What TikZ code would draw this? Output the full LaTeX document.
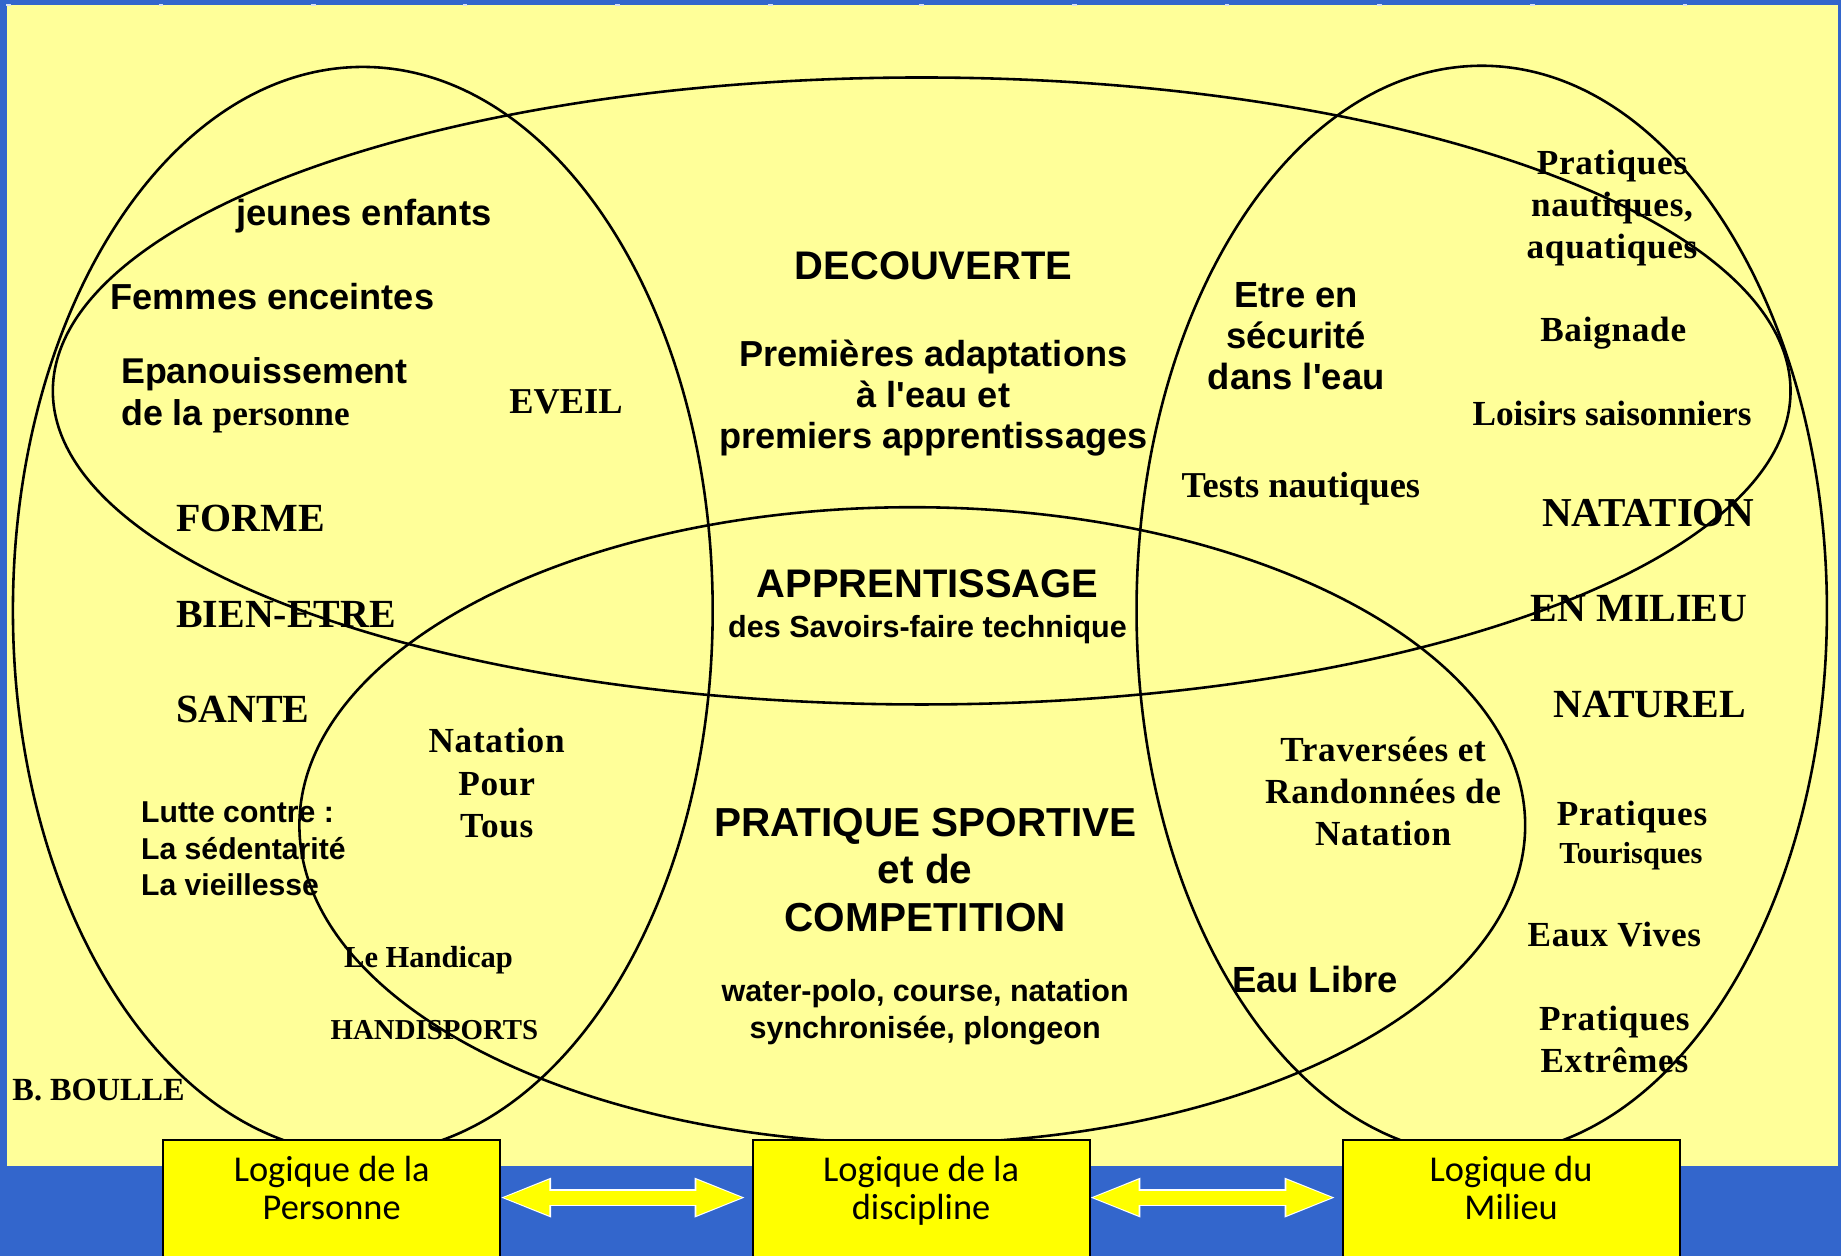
\documentclass[tikz,border=0pt]{standalone}
\usepackage{fontspec}
\setmainfont{Liberation Sans}
\newfontfamily\ans{Liberation Sans}
\newfontfamily\ser{Liberation Serif}
\newfontfamily\serw[LetterSpace=2]{Liberation Serif}
\newfontfamily\comic{Carlito}
\usetikzlibrary{arrows.meta,calc}
\definecolor{bgblue}{HTML}{3366CC}
\definecolor{pale}{HTML}{FFFF99}
\definecolor{boxy}{HTML}{FFFF00}
\newcommand{\fs}[2]{\fontsize{#1}{#2}\selectfont\bfseries}
\tikzset{
  ring/.style={draw=black,line width=2.2pt},
  txt/.style={inner sep=0pt,align=center,text=black},
  lft/.style={inner sep=0pt,align=left,anchor=west,text=black},
  lbox/.style={draw=black,line width=1.6pt,fill=boxy,anchor=north,inner sep=0pt,minimum width=287pt},
  arrback/.style={draw=white,line width=14.5pt,{Triangle[length=45pt,width=30pt]}-{Triangle[length=45pt,width=30pt]}},
  arrfront/.style={draw=boxy,line width=12pt,{Triangle[length=41pt,width=27pt]}-{Triangle[length=41pt,width=27pt]}},
  tick/.style={fill=white!80!bgblue,draw=none}
}
\begin{document}
\begin{tikzpicture}[x=1pt,y=-1pt]
\useasboundingbox (0,0) rectangle (1568,1069.7);
\clip (0,0) rectangle (1568,1069.7);
\fill[bgblue] (0,0) rectangle (1568,1069.7);
\fill[pale] (6,4) rectangle (1565,993);
\foreach \t in {7,137,267,396,526,656,785,915,1045,1175,1305,1435}
  \fill[tick] (\t-2,3) rectangle (\t+2,5);
% ellipses
\draw[ring] (309,520) ellipse [x radius=298,y radius=463];
\draw[ring] (1262,520) ellipse [x radius=294,y radius=464];
\draw[ring] (785,333) ellipse [x radius=740,y radius=267];
\draw[ring] (777,703) ellipse [x radius=522,y radius=271];
% left
\node[txt] (t1) at (310,184) {\fs{31}{35}jeunes enfants};
\node[txt] (t2) at (232,253) {\fs{30.8}{35}Femmes enceintes};
\node[lft,font=\fs{30.5}{36}] (t3) at (103,336.5) {Epanouissement\\de la {\ser\fs{30}{36}personne}};
\node[txt] (t4) at (482,342) {\ser\fs{31}{36}EVEIL};
\node[lft] (t5) at (150,442) {\ser\fs{34}{40}FORME};
\node[lft] (t6) at (150,523) {\ser\fs{34}{40}BIEN-ETRE};
\node[lft] (t7) at (150,604) {\ser\fs{34}{40}SANTE};
\node[lft,font=\fs{25.7}{31}] (t8) at (120,723) {Lutte contre :\\La sédentarité\\La vieillesse};
\node[txt,font={\serw\fs{30}{36}}] (t9) at (423,667) {Natation\\Pour\\Tous};
\node[txt] (t10) at (365,818) {\ser\fs{26}{32}Le Handicap};
\node[txt] (t11) at (370,877) {\ser\fs{24.6}{30}HANDISPORTS};
\node[txt] (t12) at (84,928) {\ser\fs{27.5}{30}B. BOULLE};
% centre
\node[txt] (c1) at (795,226) {\fs{34}{38}DECOUVERTE};
\node[txt,font=\fs{30.8}{35}] (c2) at (795,339) {Premières adaptations\\à l{\ans'}eau et\\premiers apprentissages};
\node[txt] (c3) at (790,497) {\fs{34}{38}APPRENTISSAGE};
\node[txt] (c4) at (790,536) {\fs{26}{32}des Savoirs-faire technique};
\node[txt,font=\fs{34.5}{40.5}] (c5) at (788,741) {PRATIQUE SPORTIVE\\et de\\COMPETITION};
\node[txt,font=\fs{26}{32}] (c6) at (788,862) {water-polo, course, natation\\synchronisée, plongeon};
% right inner
\node[txt,font=\fs{31}{35}] (r1) at (1104,286) {Etre en\\sécurité\\dans l{\ans'}eau};
\node[txt] (r2) at (1108,416) {\ser\fs{31}{36}Tests nautiques};
\node[txt,font={\serw\fs{30}{36}}] (r3) at (1178,674) {Traversées et\\Randonnées de\\Natation};
\node[txt] (r4) at (1120,834) {\fs{31}{36}Eau Libre};
% right
\node[txt,font={\serw\fs{30}{36}}] (s1) at (1373,177) {Pratiques\\nautiques,\\aquatiques};
\node[txt] (s2) at (1374,284) {\serw\fs{30}{36}Baignade};
\node[txt] (s3) at (1373,352) {\ser\fs{30}{36}Loisirs saisonniers};
\node[txt] (s4) at (1404,437) {\ser\fs{35}{40}NATATION};
\node[txt] (s5) at (1396,518) {\ser\fs{34}{40}EN MILIEU};
\node[txt] (s6) at (1405,600) {\ser\fs{34}{40}NATUREL};
\node[txt] (s7) at (1390,696) {\serw\fs{30}{36}Pratiques};
\node[txt] (s8) at (1389,729) {\ser\fs{26}{30}Tourisques};
\node[txt] (s9) at (1375,796) {\serw\fs{30}{36}Eaux Vives};
\node[txt,font={\serw\fs{30}{36}}] (s10) at (1375,885) {Pratiques\\Extrêmes};
% boxes
\newcommand{\boxtxt}[2]{\parbox[t][108pt][t]{283pt}{\centering\vspace*{14pt}\comic\fontsize{31}{32}\selectfont #1\\#2}}
\node[lbox] (b1) at (282.5,970) {\boxtxt{Logique de la}{Personne}};
\node[lbox] (b2) at (784.5,970) {\boxtxt{Logique de la}{discipline}};
\node[lbox] (b3) at (1287,970) {\boxtxt{Logique du}{Milieu}};
% arrows between the boxes
\coordinate (a1) at ($(b1.north east)+(0,50)$);
\coordinate (a2) at ($(b2.north west)+(-6,50)$);
\coordinate (a3) at ($(b2.north east)+(0,50)$);
\coordinate (a4) at ($(b3.north west)+(-6,50)$);
\draw[arrback] ($(a1)+(-2.5,0)$) -- ($(a2)+(2.5,0)$);
\draw[arrfront] (a1) -- (a2);
\draw[arrback] ($(a3)+(-2.5,0)$) -- ($(a4)+(2.5,0)$);
\draw[arrfront] (a3) -- (a4);
\end{tikzpicture}
\end{document}
